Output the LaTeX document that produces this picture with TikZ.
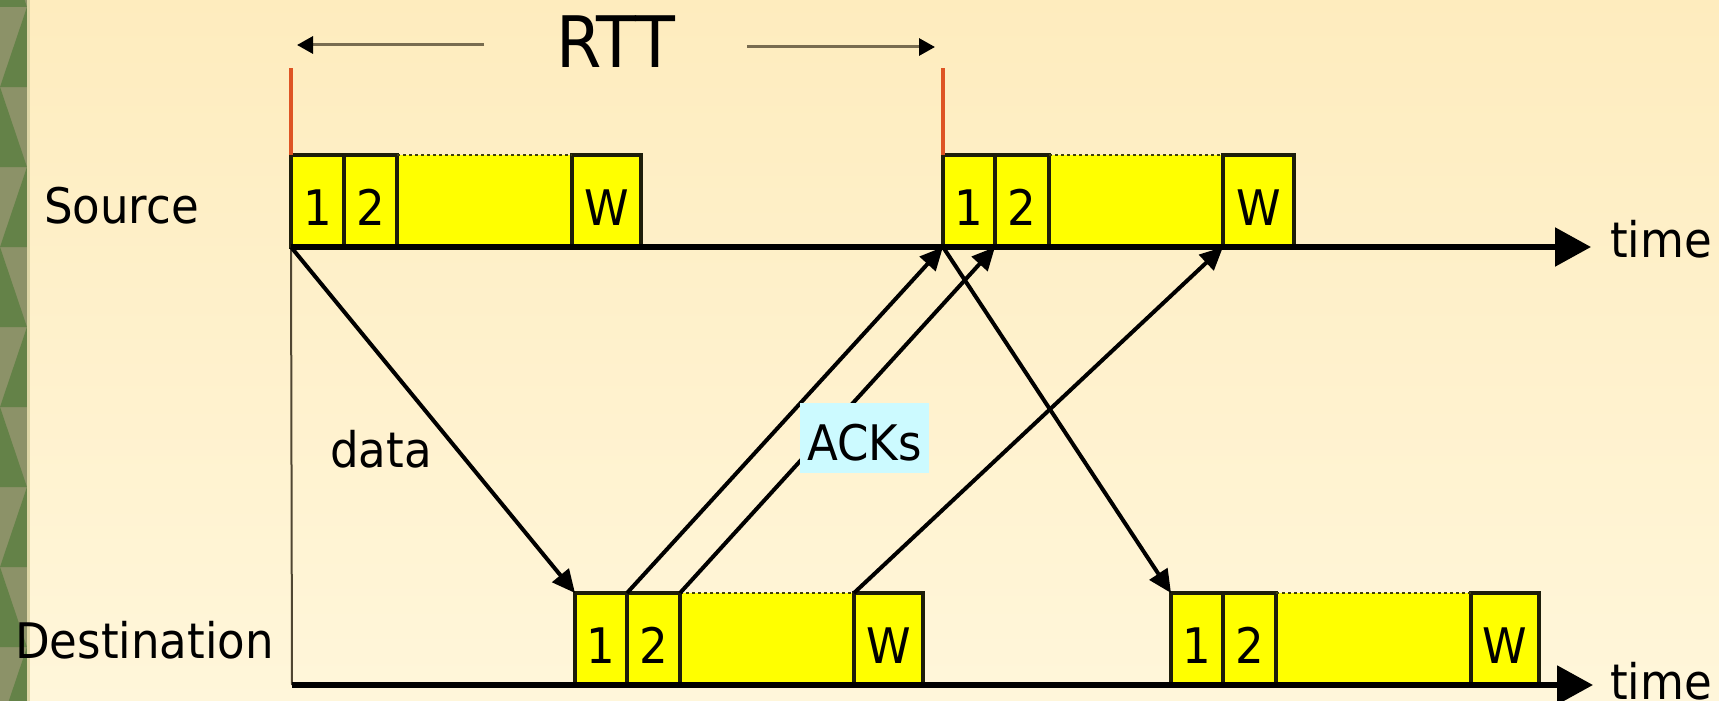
\documentclass[tikz,border=0pt]{standalone}
\usepackage{fontspec}
\setmainfont{DejaVu Sans}[FakeStretch=0.92]
\usetikzlibrary{arrows.meta}
\definecolor{bgtop}{RGB}{254,236,190}
\definecolor{bgbot}{RGB}{255,246,218}
\definecolor{gdark}{RGB}{100,130,72}
\definecolor{glight}{RGB}{140,146,104}
\definecolor{gedge}{RGB}{222,214,166}
\definecolor{pktyellow}{RGB}{255,255,0}
\definecolor{boxline}{RGB}{30,30,10}
\definecolor{rttred}{RGB}{222,84,36}
\definecolor{ackbg}{RGB}{204,250,255}
\definecolor{rttgray}{RGB}{120,108,80}
\definecolor{thinline}{RGB}{80,70,50}
\newcommand\lblfont{\fontsize{49}{55}\selectfont}
\newcommand\rttfont{\fontsize{71}{80}\selectfont}
\begin{document}
\begin{tikzpicture}[x=1pt,y=-1pt,
 pkt/.style={draw=boxline, line width=4.5pt, fill=pktyellow, minimum height=92pt, inner sep=0pt, outer sep=0pt, anchor=south west, font=\lblfont, text height=48pt, text depth=0pt},
 midfill/.style={fill=pktyellow, minimum height=92pt, inner sep=0pt, outer sep=0pt, anchor=south west},
 lbl/.style={font=\lblfont, anchor=base west, inner sep=0pt},
 axis/.style={line width=5.5pt, -{Triangle[length=36pt,width=38pt]}},
 msg/.style={line width=4pt, -{Triangle[length=23pt,width=21pt]}},
 dotedge/.style={draw=boxline!85!pktyellow, line width=2pt, dash pattern=on 3pt off 3pt},
 redmark/.style={draw=rttred, line width=3.5pt},
 rttarrow/.style={draw=rttgray, line width=3pt, -{Triangle[length=16pt,width=17pt,color=black]}},
 ]
\useasboundingbox (0,0) rectangle (1719,701);
\shade[top color=bgtop, bottom color=bgbot] (0,0) rectangle (1719,701);
% green strip
\fill[glight] (0,0) rectangle (27,701);
\foreach \k in {0,...,9}{
  \pgfmathsetmacro{\ya}{-73+80*\k}
  \pgfmathsetmacro{\yb}{7+80*\k}
  \ifodd\k
    \fill[gdark] (27,\ya) -- (27,\yb) -- (0,\yb) -- cycle;
  \else
    \fill[gdark] (0,\ya) -- (0,\yb) -- (27,\yb) -- cycle;
  \fi
}
\fill[gedge] (27,0) rectangle (30,701);

% RTT
\node[font=\rttfont, anchor=base west, inner sep=0pt] (rtt) at (556,67) {RTT};
\coordinate (rttLs) at (484,45);
\coordinate (rttLe) at (297,45);
\coordinate (rttRs) at (747,47);
\coordinate (rttRe) at (935,47);
\draw[rttarrow] (rttLs) -- (rttLe);
\draw[rttarrow] (rttRs) -- (rttRe);

% labels
\node[lbl] (src) at (44,223) {Source};
\node[lbl] (dst) at (15,658) {Destination};
\node[lbl] (data) at (330,467) {data};
\node[lbl] (stime) at (1610,257) {time};
\node[lbl] (dtime) at (1610,699) {time};

% source group 1
\node[midfill, minimum width=175pt] (s1m) at (397,247) {};
\node[pkt, minimum width=53pt] (s1a) at (291,247) {1};
\node[pkt, minimum width=53pt] (s1b) at (344,247) {2};
\node[pkt, minimum width=69pt] (s1w) at (572,247) {W};
\draw[dotedge] (s1b.north east) -- (s1w.north west);
% source group 2
\node[midfill, minimum width=174pt] (s2m) at (1049,247) {};
\node[pkt, minimum width=52pt] (s2a) at (943,247) {1};
\node[pkt, minimum width=54pt] (s2b) at (995,247) {2};
\node[pkt, minimum width=71pt] (s2w) at (1223,247) {W};
\draw[dotedge] (s2b.north east) -- (s2w.north west);
% destination group 1
\node[midfill, minimum width=174pt] (d1m) at (680,685) {};
\node[pkt, minimum width=52pt] (d1a) at (575,685) {1};
\node[pkt, minimum width=53pt] (d1b) at (627,685) {2};
\node[pkt, minimum width=69pt] (d1w) at (854,685) {W};
\draw[dotedge] (d1b.north east) -- (d1w.north west);
% destination group 2
\node[midfill, minimum width=195pt] (d2m) at (1276,685) {};
\node[pkt, minimum width=52pt] (d2a) at (1171,685) {1};
\node[pkt, minimum width=53pt] (d2b) at (1223,685) {2};
\node[pkt, minimum width=68pt] (d2w) at (1471,685) {W};
\draw[dotedge] (d2b.north east) -- (d2w.north west);

% red marks
\draw[redmark] (s1a.north west) -- ++(0,-87);
\draw[redmark] (s2a.north west) -- ++(0,-87);

% axes
\coordinate (sEnd) at (1591,247);
\coordinate (dStart) at (292,685);
\coordinate (dEnd) at (1593,685);
\draw[draw=thinline, line width=2pt] (s1a.south west) -- (dStart);
\draw[axis] (s1a.south west) -- (sEnd);
\draw[axis] (dStart) -- (dEnd);

% data and ACKs
\draw[msg] (s1a.south west) -- (d1a.north west);
\draw[msg] (s2a.south west) -- (d2a.north west);
\draw[msg] (d1b.north west) -- (s2a.south west);
\draw[msg] (d1b.north east) -- (s2b.south west);
\draw[msg] (d1w.north west) -- (s2w.south west);

\node[font=\lblfont, anchor=base west, fill=ackbg, inner xsep=7pt, inner ysep=0pt, text height=57pt, text depth=13pt] (acks) at (800,460) {ACKs};
\end{tikzpicture}
\end{document}
